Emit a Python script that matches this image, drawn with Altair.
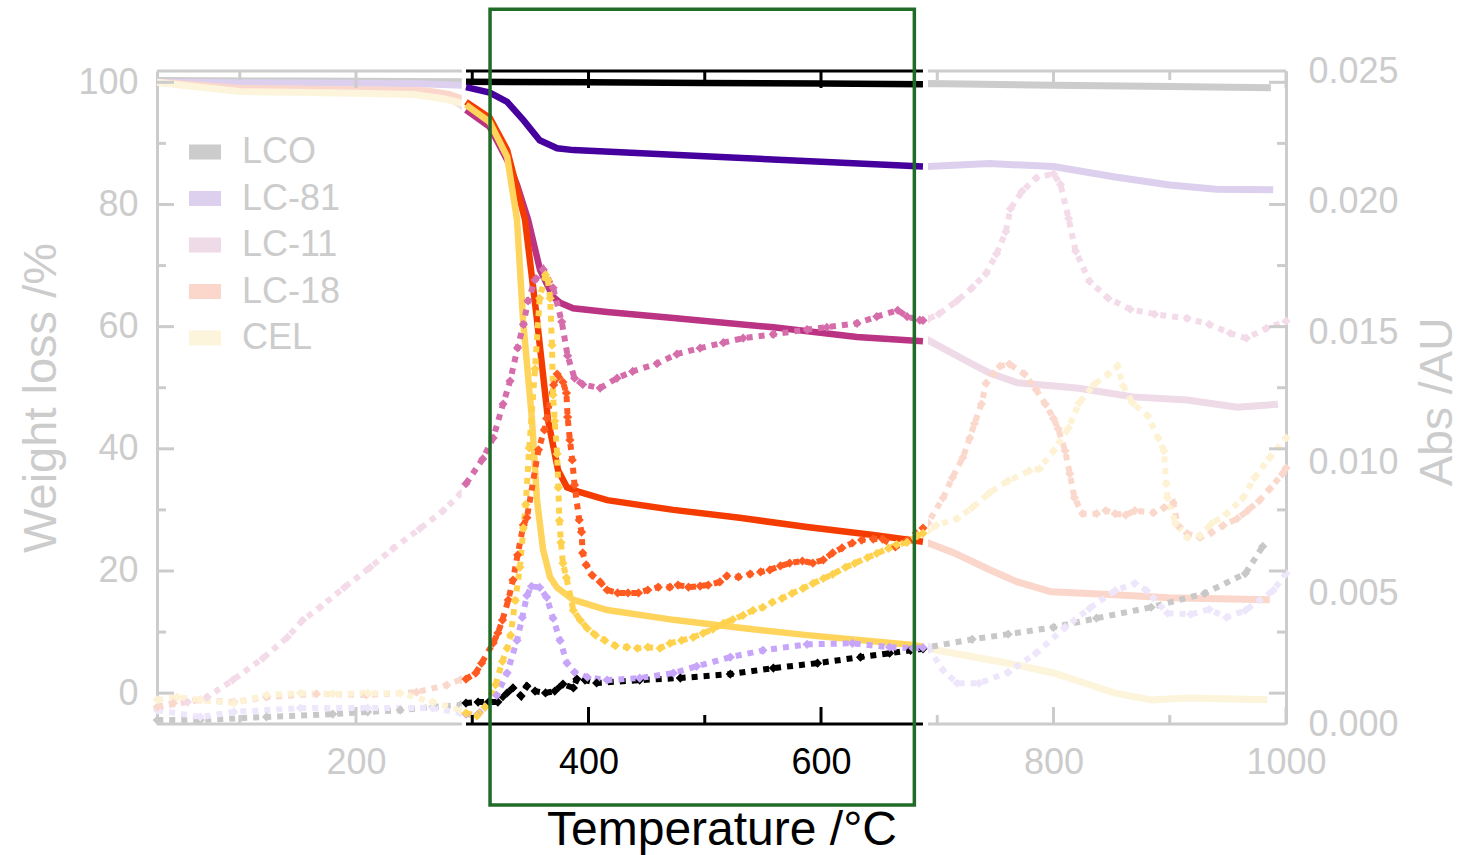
import altair as alt
import pandas as pd

FONT = "Liberation Sans"
GRAY = "#cccccc"
BLACK = "#000000"
GREEN = "#1f6b27"

SERIES = ["LCO", "LC-81", "LC-11", "LC-18", "CEL"]
FADED_SOLID = ["#cccccc", "#dcd0ee", "#efdae8", "#fbd6cb", "#fdf4dc"]
BRIGHT_SOLID = ["#000000", "#46009e", "#bb3383", "#f53c00", "#ffd45c"]
BRIGHT_DOT = ["#000000", "#c7a6fa", "#d66dab", "#ff5a20", "#ffd24e"]
FADED_DOT = ["#c8c8c8", "#eee7fb", "#f4dbe9", "#fbd8cc", "#fdf2d4"]

# ---------------- TGA curves: weight loss (%) vs temperature (°C) ----------------
lco_T = [29, 150, 291, 294.6, 400, 500, 600, 687.7, 692, 800, 900, 987]
lco_W = [100.3, 100.2, 100.1, 100.1, 100.0, 99.9, 99.8, 99.7, 99.8, 99.5, 99.3, 99.1]

lc81_T = [29, 150, 250, 291, 294.6, 315, 330, 344, 358, 373, 387, 500, 600, 687.7,
          692, 745, 800, 853, 900, 940, 989]
lc81_W = [100.0, 99.9, 99.8, 99.5, 99.2, 98.3, 96.8, 93.8, 90.5, 89.2, 88.9, 87.9, 87.0, 86.2,
          86.2, 86.7, 86.2, 84.5, 83.2, 82.5, 82.4]

lc11_T = [29, 60, 100, 200, 260, 280, 291, 294.6, 315, 330, 338.5, 348, 358.3, 369.5, 375.5,
          386.7, 416, 473, 559, 631, 687.7, 692, 724, 745, 769, 822, 868, 915, 958, 993]
lc11_W = [100.0, 99.5, 98.9, 98.6, 98.4, 97.4, 96.2, 95.5, 92.7, 87.3, 83.2, 77.5, 69.3, 64.9, 63.9,
          63.0, 62.4, 61.4, 59.9, 58.3, 57.6, 57.8, 54.5, 52.4, 50.8, 49.9, 48.5, 48.0, 46.8, 47.3]

lc18_T = [29, 60, 100, 200, 260, 280, 291, 294.6, 315, 330, 345.4, 355.7, 365.2, 373.8, 381.5,
          392.7, 416, 473, 530, 588, 645, 687.7, 692, 714, 745, 769, 798, 853, 899, 986]
lc18_W = [100.0, 99.6, 99.0, 98.8, 98.6, 98.0, 97.3, 96.8, 94.2, 88.9, 77.5, 61.1, 44.7, 36.5, 33.7,
          32.9, 31.6, 30.0, 28.7, 27.2, 25.9, 24.8, 24.6, 23.0, 20.2, 18.2, 16.6, 16.1, 15.6, 15.3]

cel_T = [29, 60, 100, 200, 250, 275, 291, 294.6, 315, 330, 338.5, 343.7, 351.4, 355.7, 360.9,
         366.9, 372.9, 386.7, 416, 473, 530, 588, 679, 687.7, 692, 761, 800, 853, 884, 915, 984]
cel_W = [100.0, 99.3, 98.5, 98.2, 98.0, 97.3, 96.6, 96.3, 93.5, 87.8, 77.5, 61.1, 44.7, 31.6, 23.5,
         19.0, 17.3, 15.3, 13.6, 12.0, 10.7, 9.5, 7.9, 7.6, 7.3, 4.9, 3.3, 0.0, -1.1, -0.8, -1.1]

# ---------------- Absorbance curves (in 1e-3 AU) vs temperature (°C) ----------------
lco_aT = [29, 66, 123, 180, 210, 238, 266, 290, 294.6, 305, 314, 322, 330, 335, 342, 347, 354,
          363, 371, 378, 387, 390, 397, 407, 444, 479, 522, 559, 597, 634, 659, 677, 687.7,
          692, 730, 761, 800, 837, 884, 930, 965, 980]
lco_A = [0.15, 0.15, 0.27, 0.38, 0.46, 0.53, 0.65, 0.73, 0.80, 0.84, 0.84, 0.84, 1.19, 1.38, 1.07,
         1.45, 1.26, 1.19, 1.26, 1.53, 1.38, 1.72, 1.68, 1.57, 1.68, 1.76, 1.91, 2.14, 2.33, 2.56,
         2.71, 2.82, 2.88, 2.94, 3.24, 3.44, 3.70, 4.05, 4.47, 5.00, 5.76, 6.80]

lc81_aT = [29, 66, 95, 152, 210, 266, 290, 294.6, 304, 311, 321, 330, 338.5, 343, 347, 351, 358,
           364, 369.5, 375.5, 381.5, 388, 399, 416, 444, 473, 493, 522, 550, 588, 627, 659, 679,
           687.7, 692, 705, 717, 736, 761, 785, 810, 831, 853, 870, 880, 898, 918, 934, 949, 965,
           989, 1000]
lc81_A = [0.53, 0.27, 0.46, 0.61, 0.61, 0.61, 0.42, 0.38, 0.34, 0.65, 1.10, 1.95, 3.20, 4.08, 4.92,
          5.27, 5.23, 4.85, 4.05, 3.20, 2.33, 1.98, 1.79, 1.68, 1.76, 1.95, 2.21, 2.56, 2.82, 3.05,
          3.09, 2.94, 2.90, 2.92, 2.94, 2.06, 1.56, 1.56, 1.98, 2.71, 3.70, 4.43, 5.11, 5.38, 5.11,
          4.24, 4.20, 4.39, 4.08, 4.35, 5.11, 5.76]

lc11_aT = [29, 55, 72, 94, 120, 141, 154, 169, 190, 212, 232, 255, 275, 290, 294.6, 309, 318,
           326.5, 332.5, 339, 344, 348, 354, 361, 369.5, 377, 382, 388, 395, 410, 424.5, 438, 459,
           476, 496, 516, 533, 559, 588, 605, 631, 648, 666, 674, 685, 687.7, 692, 701.5, 717, 730,
           742, 751, 759, 763, 773, 785, 800, 806, 813, 819, 831, 847, 866, 887, 915, 934, 952,
           966, 983, 1000]
lc11_A = [0.65, 0.84, 1.03, 1.68, 2.52, 3.32, 3.97, 4.47, 5.23, 5.99, 6.72, 7.48, 8.17, 8.82, 9.20,
          10.15, 10.95, 12.25, 13.13, 14.40, 15.30, 16.20, 17.00, 17.40, 16.70, 15.40, 14.10, 13.24,
          13.00, 12.86, 13.24, 13.50, 13.80, 14.16, 14.39, 14.60, 14.77, 14.92, 15.10, 15.19, 15.34,
          15.60, 15.84, 15.60, 15.46, 15.45, 15.50, 15.70, 16.20, 16.70, 17.25, 18.00, 18.85, 19.73,
          20.40, 20.90, 21.07, 20.65, 19.35, 18.10, 16.95, 16.30, 15.88, 15.69, 15.53, 15.30, 14.96,
          14.77, 15.15, 15.42]

lc18_aT = [29, 43, 66, 95, 123, 166, 209, 252, 278, 290, 294.6, 303, 308, 318, 322, 326, 331, 335,
           339, 344, 347, 357, 362, 364, 370, 373, 378, 381, 382, 384, 386, 388, 392, 394, 395, 398,
           403, 410, 416, 425, 434, 443, 451, 460, 470, 477, 486, 496, 503, 513, 519, 529, 539, 548,
           556, 565, 573, 584, 593, 602, 610, 618, 627, 635, 645, 653, 664, 674, 687.7, 692, 705,
           713, 722, 728, 732, 738, 742, 748, 754, 762, 775, 785, 793, 800, 804, 810, 814, 818, 825,
           837, 845, 853, 862, 870, 886, 895, 903, 907, 915, 926, 936, 946, 958, 967, 977, 986, 997,
           1000]
lc18_A = [0.65, 0.80, 0.92, 0.84, 1.03, 1.15, 1.11, 1.22, 1.49, 1.70, 1.72, 1.95, 2.33, 3.10, 3.48,
          3.98, 4.75, 5.51, 6.47, 7.62, 7.90, 10.50, 11.26, 11.70, 12.98, 13.40, 13.09, 12.67, 11.75,
          10.87, 10.11, 9.15, 7.81, 7.35, 6.55, 6.09, 5.70, 5.44, 5.13, 5.02, 5.02, 5.02, 5.13, 5.24,
          5.24, 5.32, 5.24, 5.28, 5.32, 5.44, 5.67, 5.63, 5.74, 5.82, 5.90, 6.05, 6.16, 6.24, 6.16,
          6.28, 6.55, 6.74, 6.93, 7.04, 7.08, 7.08, 6.78, 7.04, 7.50, 7.70, 8.66, 9.43, 10.20, 10.95,
          11.50, 12.25, 13.05, 13.40, 13.70, 13.78, 13.40, 12.80, 12.25, 11.70, 11.30, 10.46, 9.58,
          8.66, 8.05, 8.05, 8.17, 8.05, 8.00, 8.17, 8.09, 8.28, 8.47, 7.60, 7.29, 7.14, 7.33, 7.60,
          7.86, 8.17, 8.55, 9.00, 9.58, 9.80]

cel_aT = [29, 46, 66, 95, 123, 152, 180, 210, 238, 266, 290, 294.6, 304, 311, 320, 326, 330, 333,
          337, 341, 344, 346, 349, 354, 358, 363, 365, 367, 368.6, 369.5, 371, 373, 374, 375, 376.3,
          378, 381, 387, 393, 399, 406, 414, 423, 433, 442, 451, 461.5, 470, 480, 490, 498.5, 507,
          516, 524, 533, 541.5, 550, 558, 566.5, 575, 584.5, 593, 602, 610, 621, 629, 640, 648, 658,
          665, 674, 683, 687.7, 692, 699, 717, 730, 745, 761, 779, 788, 800, 813, 822, 835, 847, 855,
          860, 868, 881, 890, 895, 897, 898, 905, 915, 926, 936, 949, 963, 973, 986, 1000]
cel_A = [0.92, 1.03, 0.92, 0.80, 1.11, 1.18, 1.15, 1.18, 1.18, 0.84, 0.53, 0.42, 0.31, 0.65, 1.50,
         2.40, 2.90, 3.40, 4.73, 6.00, 7.50, 8.40, 10.57, 13.60, 16.30, 17.20, 17.00, 16.30, 14.50,
         12.60, 11.60, 10.34, 9.05, 7.79, 6.95, 6.15, 5.60, 4.35, 3.97, 3.66, 3.40, 3.20, 3.00, 2.94,
         2.90, 2.94, 2.90, 3.09, 3.20, 3.32, 3.47, 3.63, 3.85, 4.00, 4.16, 4.35, 4.47, 4.66, 4.81,
         5.00, 5.19, 5.38, 5.57, 5.73, 6.00, 6.15, 6.37, 6.53, 6.72, 6.87, 6.95, 7.21, 7.30, 7.40,
         7.60, 7.86, 8.28, 8.85, 9.31, 9.69, 9.77, 10.46, 11.33, 12.29, 13.00, 13.40, 13.70, 12.94,
         12.29, 11.80, 10.95, 10.46, 9.20, 8.66, 7.67, 7.14, 7.21, 7.67, 8.05, 8.66, 9.43, 10.20,
         10.95]

# ---------------- axes / layout values ----------------
X_DOMAIN = [28.8, 1000]
W_DOMAIN = [-5.05, 101.85]
A_DOMAIN = [0.0, 0.025]
HIGHLIGHT = [294.6, 687.7]
MASK = [291, 692]
BOX_T = [315.3, 680.3]
BOX_W = [-18.3, 111.95]
X_LABELS = [200, 400, 600, 800, 1000]
X_TICKS = list(range(100, 1001, 100))
W_LABELS = [0, 20, 40, 60, 80, 100]
W_TICKS = list(range(0, 101, 10))
A_LABELS = [0.0, 0.005, 0.010, 0.015, 0.020, 0.025]

PW, PH = 1129, 653
MAJOR, MINOR = 17, 9
RECT_SYMBOL = "M-1,-0.47H1V0.47H-1Z"

# ---------------- tables ----------------
solid_T = [lco_T, lc81_T, lc11_T, lc18_T, cel_T]
solid_W = [lco_W, lc81_W, lc11_W, lc18_W, cel_W]
dot_T = [lco_aT, lc81_aT, lc11_aT, lc18_aT, cel_aT]
dot_A = [lco_A, lc81_A, lc11_A, lc18_A, cel_A]

solid = pd.concat([
    pd.DataFrame({"series": s, "T": t, "W": w, "faded": FADED_SOLID[i], "bright": BRIGHT_SOLID[i]})
    for i, (s, t, w) in enumerate(zip(SERIES, solid_T, solid_W))
], ignore_index=True)

dotted = pd.concat([
    pd.DataFrame({"series": s, "T": t, "A": [v / 1000 for v in a],
                  "faded": FADED_DOT[i], "bright": BRIGHT_DOT[i]})
    for i, (s, t, a) in enumerate(zip(SERIES, dot_T, dot_A))
], ignore_index=True)

legend_df = pd.DataFrame({"series": SERIES, "T": [None] * len(SERIES), "W": [None] * len(SERIES)})

in_hi = lambda v: HIGHLIGHT[0] <= v <= HIGHLIGHT[1]
mask_df = pd.DataFrame({"T0": [MASK[0]], "T1": [MASK[1]]})
seg_df = pd.DataFrame({"T0": [X_DOMAIN[0], HIGHLIGHT[0], MASK[1]],
                       "T1": [MASK[0], HIGHLIGHT[1], X_DOMAIN[1]],
                       "c": [GRAY, BLACK, GRAY]})
xt_df = pd.DataFrame({"T": X_TICKS,
                      "major": [t % 200 == 0 for t in X_TICKS],
                      "c": [BLACK if in_hi(t) else GRAY for t in X_TICKS]})
yt_df = pd.DataFrame({"W": W_TICKS, "major": [w % 20 == 0 for w in W_TICKS]})
box_df = pd.DataFrame({"T0": [BOX_T[0]], "T1": [BOX_T[1]], "W0": [BOX_W[0]], "W1": [BOX_W[1]]})

# ---------------- scales & axes ----------------
X_SCALE = alt.Scale(domain=X_DOMAIN, nice=False, zero=False)
W_SCALE = alt.Scale(domain=W_DOMAIN, nice=False, zero=False)
A_SCALE = alt.Scale(domain=A_DOMAIN, nice=False, zero=False)

hi_test = f"datum.value >= {HIGHLIGHT[0]} && datum.value <= {HIGHLIGHT[1]}"
X_AXIS = alt.Axis(
    values=X_LABELS, format="d", title="Temperature /°C", domain=False, ticks=False, tickSize=0,
    grid=False, labelFont=FONT, labelFontSize=36,
    labelColor={"condition": {"test": hi_test, "value": BLACK}, "value": GRAY},
    labelPadding=21, labelFlush=False, labelOverlap=False,
    titleFont=FONT, titleFontSize=48, titleFontWeight="normal", titleColor=BLACK,
    titleX=PW / 2, titleY=120, titleBaseline="alphabetic", titleAlign="center",
)
W_AXIS = alt.Axis(
    orient="left", values=W_LABELS, title="Weight loss /%", domain=True, domainColor=GRAY,
    domainWidth=3, ticks=False, tickSize=0, grid=False,
    labelFont=FONT, labelFontSize=36, labelColor=GRAY, labelPadding=19,
    titleFont=FONT, titleFontSize=47, titleFontWeight="normal", titleColor=GRAY,
    titleAngle=270, titleX=-102, titleY=PH / 2, titleBaseline="alphabetic", titleAlign="center",
)
A_AXIS = alt.Axis(
    orient="right", values=A_LABELS, format=".3f", title="Abs /AU", domain=True,
    domainColor=GRAY, domainWidth=3, ticks=False, tickSize=0, grid=False,
    labelFont=FONT, labelFontSize=36, labelColor=GRAY, labelPadding=22,
    titleFont=FONT, titleFontSize=46, titleFontWeight="normal", titleColor=GRAY,
    titleAngle=270, titleX=165, titleY=PH / 2 + 4, titleBaseline="alphabetic", titleAlign="center",
)
LEGEND = alt.Legend(
    title=None, orient="none", legendX=30, legendY=63, symbolType=RECT_SYMBOL, symbolSize=1024,
    symbolStrokeWidth=0, labelFont=FONT, labelFontSize=36, labelColor=GRAY, labelOffset=19,
    rowPadding=10.5, labelLimit=0,
)


def X(field="T"):
    return alt.X(f"{field}:Q", scale=X_SCALE, axis=X_AXIS)


def YW(field="W", axis=None):
    return alt.Y(f"{field}:Q", scale=W_SCALE, axis=axis)


def YA(axis=None):
    return alt.Y("A:Q", scale=A_SCALE, axis=axis)


hi_filter = f"datum.T >= {HIGHLIGHT[0] - 0.05} && datum.T <= {HIGHLIGHT[1] + 0.05}"
DASH = [6, 6]
DOT_W = 6
DIAMOND = 85

faded_solid = alt.Chart(solid).mark_line(strokeWidth=7).encode(
    x=X(), y=YW(axis=W_AXIS), detail="series:N", stroke=alt.Stroke("faded:N", scale=None),
)
legend_layer = alt.Chart(legend_df).mark_point(filled=True, shape=RECT_SYMBOL, opacity=1).encode(
    x=X(), y=YW(),
    color=alt.Color("series:N", scale=alt.Scale(domain=SERIES, range=FADED_SOLID), legend=LEGEND),
)
faded_dot = alt.Chart(dotted).mark_line(strokeWidth=DOT_W, strokeDash=DASH).encode(
    x=X(), y=YA(axis=A_AXIS), detail="series:N", stroke=alt.Stroke("faded:N", scale=None),
)
faded_pts = alt.Chart(dotted).mark_point(shape="diamond", filled=True, size=DIAMOND, opacity=1,
                                          strokeWidth=0).encode(
    x=X(), y=YA(), fill=alt.Fill("faded:N", scale=None),
)
mask = alt.Chart(mask_df).mark_rect(fill="white").encode(
    x=X("T0"), x2="T1:Q", y=alt.value(0), y2=alt.value(PH),
)
bright_solid = alt.Chart(solid).transform_filter(hi_filter).mark_line(strokeWidth=6.5).encode(
    x=X(), y=YW(), detail="series:N", stroke=alt.Stroke("bright:N", scale=None),
)
bright_dot = alt.Chart(dotted).transform_filter(hi_filter).mark_line(
    strokeWidth=DOT_W, strokeDash=DASH).encode(
    x=X(), y=YA(), detail="series:N", stroke=alt.Stroke("bright:N", scale=None),
)
bright_pts = alt.Chart(dotted).transform_filter(hi_filter).mark_point(
    shape="diamond", filled=True, size=DIAMOND, opacity=1, strokeWidth=0).encode(
    x=X(), y=YA(), fill=alt.Fill("bright:N", scale=None),
)

frame_top = alt.Chart(seg_df).mark_rule(strokeWidth=3).encode(
    x=X("T0"), x2="T1:Q", y=alt.value(0), stroke=alt.Stroke("c:N", scale=None))
frame_bot = alt.Chart(seg_df).mark_rule(strokeWidth=3).encode(
    x=X("T0"), x2="T1:Q", y=alt.value(PH), stroke=alt.Stroke("c:N", scale=None))

tick_layers = []
for is_major, ln in [(True, MAJOR), (False, MINOR)]:
    flt = "datum.major" if is_major else "!datum.major"
    tick_layers.append(alt.Chart(xt_df).transform_filter(flt).mark_rule(strokeWidth=3).encode(
        x=X(), y=alt.value(PH), y2=alt.value(PH - ln), stroke=alt.Stroke("c:N", scale=None)))
    tick_layers.append(alt.Chart(xt_df).transform_filter(flt).mark_rule(strokeWidth=3).encode(
        x=X(), y=alt.value(0), y2=alt.value(ln), stroke=alt.Stroke("c:N", scale=None)))
    tick_layers.append(alt.Chart(yt_df).transform_filter(flt).mark_rule(
        strokeWidth=3, color=GRAY).encode(y=YW(), x=alt.value(0), x2=alt.value(ln)))
    tick_layers.append(alt.Chart(yt_df).transform_filter(flt).mark_rule(
        strokeWidth=3, color=GRAY).encode(y=YW(), x=alt.value(PW), x2=alt.value(PW - ln)))

box = alt.Chart(box_df).mark_rect(fill="transparent", stroke=GREEN, strokeWidth=3.5).encode(
    x=X("T0"), x2="T1:Q", y=YW("W0"), y2="W1:Q",
)

chart = alt.layer(
    faded_solid, legend_layer, faded_dot, faded_pts, mask, bright_solid, bright_dot, bright_pts,
    frame_top, frame_bot, *tick_layers, box,
).resolve_scale(y="independent").properties(
    width=PW, height=PH,
    autosize=alt.AutoSizeParams(type="none"),
    padding={"left": 157, "top": 71, "right": 174, "bottom": 131},
    background="white",
).configure_view(strokeWidth=0)

chart.save("out.html", embed_options={"renderer": "svg", "actions": False})
